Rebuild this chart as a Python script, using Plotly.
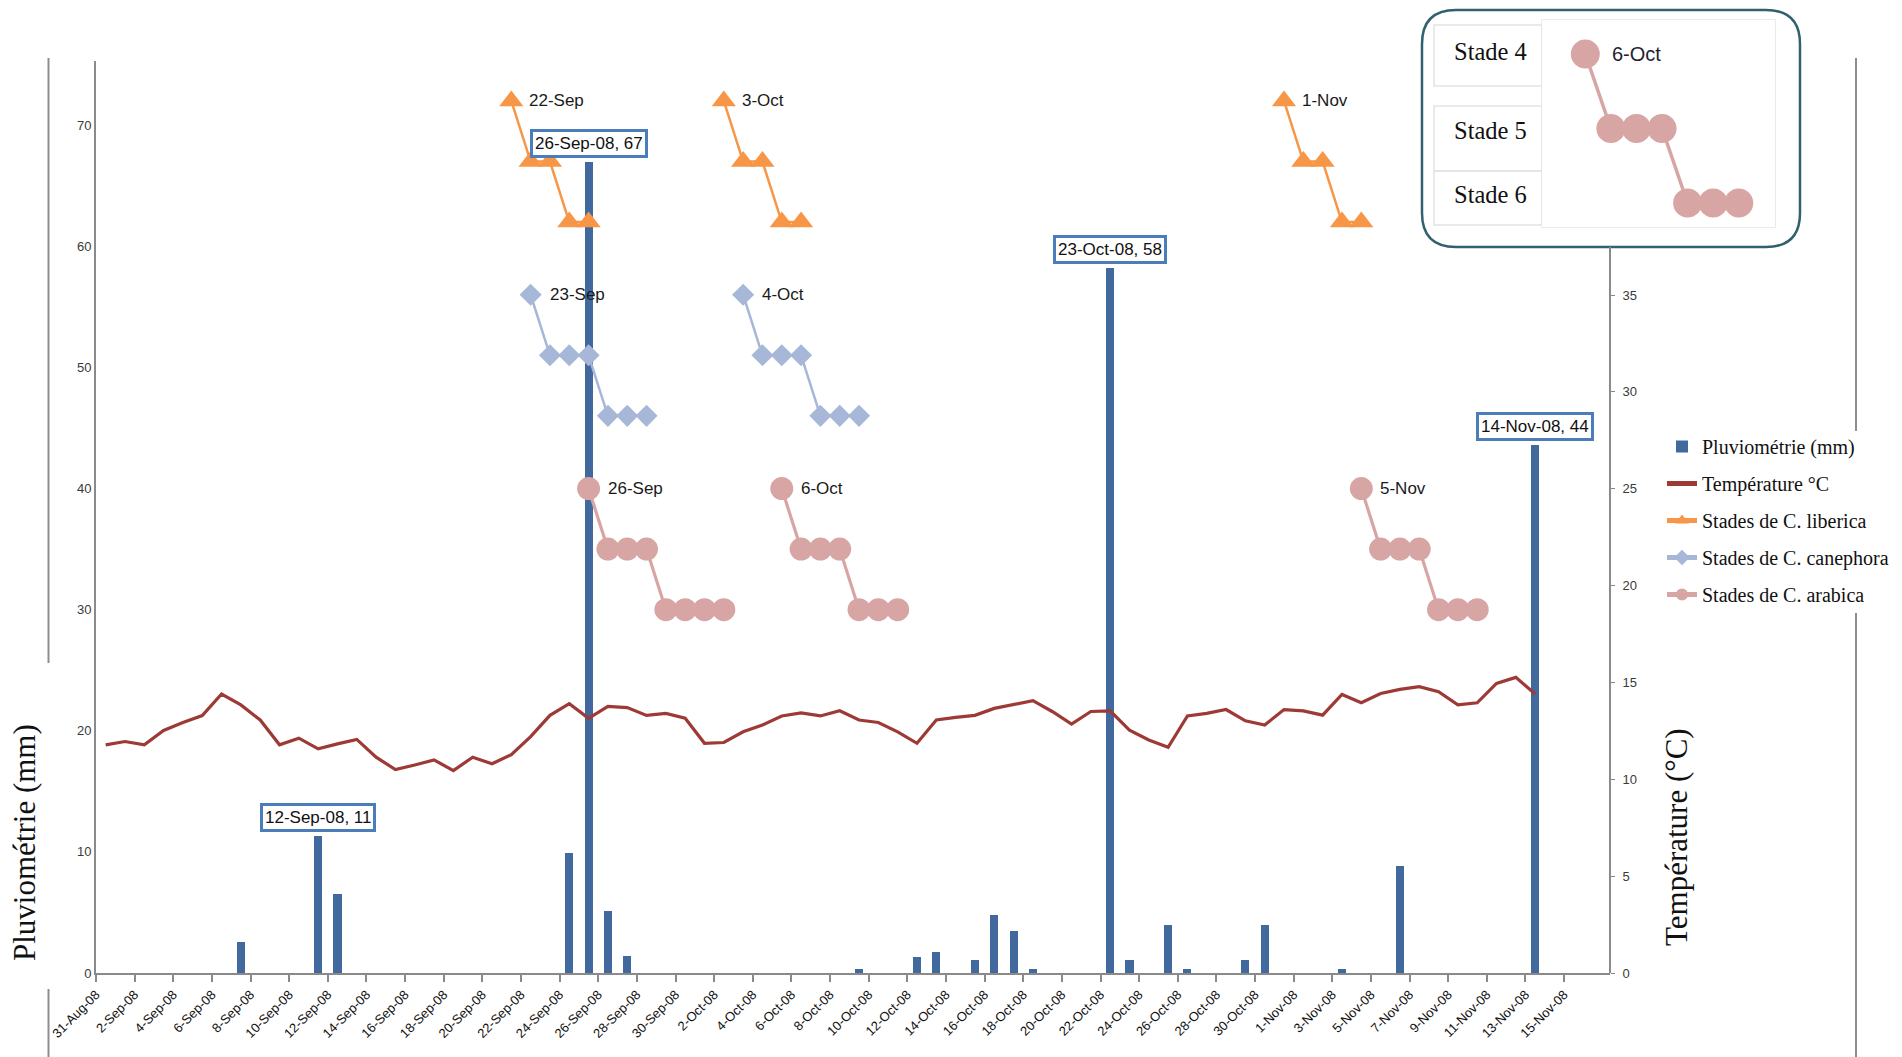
import pandas as pd
import plotly.graph_objects as go

# ---------------- DATA ----------------
rain_dates = ["2008-09-08", "2008-09-12", "2008-09-13", "2008-09-25", "2008-09-26",
              "2008-09-27", "2008-09-28", "2008-10-10", "2008-10-13", "2008-10-14",
              "2008-10-16", "2008-10-17", "2008-10-18", "2008-10-19", "2008-10-23",
              "2008-10-24", "2008-10-26", "2008-10-27", "2008-10-30", "2008-10-31",
              "2008-11-04", "2008-11-07", "2008-11-14"]
rain_mm = [2.6, 11.3, 6.5, 9.9, 67.0, 5.1, 1.4, 0.3, 1.3, 1.7, 1.1, 4.8, 3.5, 0.3,
           58.2, 1.1, 4.0, 0.3, 1.1, 4.0, 0.3, 8.8, 43.6]
rain_labelled = ["2008-09-12", "2008-09-26", "2008-10-23", "2008-11-14"]

temp_dates = pd.date_range("2008-09-01", "2008-11-14", freq="D")
temp_c = [11.78, 11.95, 11.78, 12.52, 12.93, 13.29, 14.40, 13.84, 13.06, 11.78,
          12.12, 11.57, 11.83, 12.06, 11.14, 10.50, 10.74, 11.00, 10.45, 11.14,
          10.80, 11.27, 12.20, 13.30, 13.90, 13.15, 13.76, 13.70, 13.30, 13.40,
          13.15, 11.86, 11.90, 12.45, 12.80, 13.27, 13.43, 13.27, 13.54, 13.06,
          12.93, 12.45, 11.86, 13.06, 13.20, 13.30, 13.66, 13.87, 14.06, 13.50,
          12.85, 13.50, 13.53, 12.54, 12.03, 11.65, 13.27, 13.40, 13.60, 13.02,
          12.80, 13.60, 13.53, 13.31, 14.38, 13.95, 14.43, 14.64, 14.78, 14.52,
          13.84, 13.95, 14.95, 15.26, 14.40]

liberica_dates = ["2008-09-22", "2008-09-23", "2008-09-24", "2008-09-25", "2008-09-26", None,
                  "2008-10-03", "2008-10-04", "2008-10-05", "2008-10-06", "2008-10-07", None,
                  "2008-11-01", "2008-11-02", "2008-11-03", "2008-11-04", "2008-11-05"]
liberica_y = [72, 67, 67, 62, 62, None,
              72, 67, 67, 62, 62, None,
              72, 67, 67, 62, 62]

canephora_dates = ["2008-09-23", "2008-09-24", "2008-09-25", "2008-09-26", "2008-09-27",
                   "2008-09-28", "2008-09-29", None,
                   "2008-10-04", "2008-10-05", "2008-10-06", "2008-10-07", "2008-10-08",
                   "2008-10-09", "2008-10-10"]
canephora_y = [56, 51, 51, 51, 46, 46, 46, None,
               56, 51, 51, 51, 46, 46, 46]

arabica_dates = ["2008-09-26", "2008-09-27", "2008-09-28", "2008-09-29", "2008-09-30",
                 "2008-10-01", "2008-10-02", "2008-10-03", None,
                 "2008-10-06", "2008-10-07", "2008-10-08", "2008-10-09", "2008-10-10",
                 "2008-10-11", "2008-10-12", None,
                 "2008-11-05", "2008-11-06", "2008-11-07", "2008-11-08", "2008-11-09",
                 "2008-11-10", "2008-11-11"]
arabica_y = [40, 35, 35, 35, 30, 30, 30, 30, None,
             40, 35, 35, 35, 30, 30, 30, None,
             40, 35, 35, 35, 30, 30, 30]

inset_dates = ["2008-10-06", "2008-10-07", "2008-10-08", "2008-10-09",
               "2008-10-10", "2008-10-11", "2008-10-12"]
inset_y = [40, 35, 35, 35, 30, 30, 30]
inset_stage_labels = ["Stade 4", "Stade 5", "Stade 6"]

tick_labels = ["31-Aug-08", "2-Sep-08", "4-Sep-08", "6-Sep-08", "8-Sep-08", "10-Sep-08",
               "12-Sep-08", "14-Sep-08", "16-Sep-08", "18-Sep-08", "20-Sep-08", "22-Sep-08",
               "24-Sep-08", "26-Sep-08", "28-Sep-08", "30-Sep-08", "2-Oct-08", "4-Oct-08",
               "6-Oct-08", "8-Oct-08", "10-Oct-08", "12-Oct-08", "14-Oct-08", "16-Oct-08",
               "18-Oct-08", "20-Oct-08", "22-Oct-08", "24-Oct-08", "26-Oct-08", "28-Oct-08",
               "30-Oct-08", "1-Nov-08", "3-Nov-08", "5-Nov-08", "7-Nov-08", "9-Nov-08",
               "11-Nov-08", "13-Nov-08", "15-Nov-08"]

# ---------------- LAYOUT HELPERS (pixel -> paper) ----------------
W, H = 1902, 1057
ML, MR, MT, MB = 96, 10, 5, 84
PX0, PX1 = ML, W - MR
PY0, PY1 = MT, H - MB
PLOT_R, PLOT_T = 1610, 61


def px(x):
    return (x - PX0) / (PX1 - PX0)


def py(y):
    return (PY1 - y) / (PY1 - PY0)


SANS = "Liberation Sans, Arial, sans-serif"
SERIF = "Liberation Serif, Times New Roman, serif"

fig = go.Figure()

# rain bars
fig.add_trace(go.Bar(
    x=rain_dates, y=rain_mm, name="Pluviométrie (mm)",
    marker=dict(color="#41699E", line=dict(width=0)),
    width=0.42 * 86400000, legendgroup="g1", yaxis="y", xaxis="x",
))

# temperature line
fig.add_trace(go.Scatter(
    x=temp_dates, y=temp_c, name="Température °C", mode="lines",
    line=dict(color="#9D3A36", width=3.2), legendgroup="g2", yaxis="y2", xaxis="x",
))

stage_series = [
    ("Stades de C. liberica", liberica_dates, liberica_y, "#F79646", "triangle-up", 21, 2.5, 16),
    ("Stades de C. canephora", canephora_dates, canephora_y, "#A7B7D7", "diamond", 17, 2.5, 17),
    ("Stades de C. arabica", arabica_dates, arabica_y, "#D8A5A5", "circle", 23, 3.2, 17),
]

annotations = []
for i, (name, xs, ys, col, sym, size, lw, off) in enumerate(stage_series):
    fig.add_trace(go.Scatter(
        x=xs, y=ys, name=name, mode="lines+markers",
        line=dict(color=col, width=lw),
        marker=dict(symbol=sym, size=size, color=col, line=dict(width=0)),
        legendgroup="g%d" % (i + 3), yaxis="y", xaxis="x", connectgaps=False,
    ))
    prev = None
    for xv, yv in zip(xs, ys):
        if xv is not None and prev is None:
            d = pd.Timestamp(xv)
            annotations.append(dict(
                x=xv, y=yv, xref="x", yref="y", text="%d-%s" % (d.day, d.strftime("%b")),
                showarrow=False, xanchor="left", yanchor="middle", xshift=off,
                font=dict(family=SANS, size=17, color="#1a1a1a"),
            ))
        prev = xv

# bar data labels
for xv, yv in zip(rain_dates, rain_mm):
    if xv in rain_labelled:
        d = pd.Timestamp(xv)
        annotations.append(dict(
            x=xv, y=yv, xref="x", yref="y",
            text="%d-%s-08, %.0f" % (d.day, d.strftime("%b"), yv),
            showarrow=False, xanchor="center", yanchor="bottom", yshift=4,
            font=dict(family=SANS, size=17, color="#111111"),
            bgcolor="white", bordercolor="#4A7DBA", borderwidth=3, borderpad=2,
        ))

# inset trace
fig.add_trace(go.Scatter(
    x=inset_dates, y=inset_y, mode="lines+markers", showlegend=False,
    line=dict(color="#D8A5A5", width=3.5),
    marker=dict(symbol="circle", size=29, color="#D8A5A5"),
    xaxis="x3", yaxis="y3",
))
d0 = pd.Timestamp(inset_dates[0])
annotations.append(dict(
    x=inset_dates[0], y=inset_y[0], xref="x3", yref="y3",
    text="%d-%s" % (d0.day, d0.strftime("%b")), showarrow=False,
    xanchor="left", yanchor="middle", xshift=25,
    font=dict(family=SANS, size=20, color="#1f2430"),
))

# inset stage labels
for lab, yy in zip(inset_stage_labels, [51, 131, 194]):
    annotations.append(dict(
        x=px(1490), y=py(yy), xref="paper", yref="paper", text=lab, showarrow=False,
        xanchor="center", yanchor="middle",
        font=dict(family=SERIF, size=24.5, color="#111111"),
    ))

# axis titles
annotations.append(dict(
    x=px(24), y=py(843), xref="paper", yref="paper", text="Pluviométrie (mm)",
    textangle=-90, showarrow=False, xanchor="center", yanchor="middle",
    font=dict(family=SERIF, size=31, color="#111111"),
))
annotations.append(dict(
    x=px(1676), y=py(837), xref="paper", yref="paper", text="Température (°C)",
    textangle=-90, showarrow=False, xanchor="center", yanchor="middle",
    font=dict(family=SERIF, size=31, color="#111111"),
))

# ---------------- SHAPES ----------------
shapes = []


def rounded_rect(x0, y0, x1, y1, r):
    rx = r / (PX1 - PX0)
    ry = r / (PY1 - PY0)
    a, b, c, d = px(x0), px(x1), py(y1), py(y0)  # left, right, bottom, top
    return ("M %f,%f L %f,%f Q %f,%f %f,%f L %f,%f Q %f,%f %f,%f "
            "L %f,%f Q %f,%f %f,%f L %f,%f Q %f,%f %f,%f Z" % (
                a + rx, d, b - rx, d, b, d, b, d - ry,
                b, c + ry, b, c, b - rx, c,
                a + rx, c, a, c, a, c + ry,
                a, d - ry, a, d, a + rx, d))


shapes.append(dict(type="path", path=rounded_rect(1422, 10, 1800, 247, 34),
                   xref="paper", yref="paper", fillcolor="white",
                   line=dict(color="#31606E", width=2.5), layer="below"))
for (x0, y0, x1, y1) in [(1434, 25, 1542, 86), (1434, 106, 1542, 171),
                         (1434, 171, 1542, 225), (1542, 20, 1775, 227)]:
    shapes.append(dict(type="rect", x0=px(x0), x1=px(x1), y0=py(y1), y1=py(y0),
                       xref="paper", yref="paper", fillcolor="rgba(0,0,0,0)",
                       line=dict(color="#E4E4E4", width=1.5), layer="below"))
# right axis line (below the inset box)
shapes.append(dict(type="line", x0=px(PLOT_R), x1=px(PLOT_R), y0=py(973), y1=py(247),
                   xref="paper", yref="paper", line=dict(color="#8A8A8A", width=2),
                   layer="below"))
# decorative outer frame lines
for (xx, ya, yb) in [(48.5, 58, 663), (48.5, 989, 1057), (1856, 58, 431), (1856, 613, 1057)]:
    shapes.append(dict(type="line", x0=px(xx), x1=px(xx), y0=py(ya), y1=py(yb),
                       xref="paper", yref="paper", line=dict(color="#8E8E8E", width=2),
                       layer="below"))

# ---------------- AXES ----------------
tickvals = [(pd.to_datetime(t, format="%d-%b-%y") + pd.Timedelta(hours=12)).strftime("%Y-%m-%d %H:%M")
            for t in tick_labels]

x3_left = d0 - pd.Timedelta(days=(1585 - 1542) / 25.4)
x3_right = pd.Timestamp(inset_dates[-1]) + pd.Timedelta(days=(1775 - 1739) / 25.4)

fig.update_layout(
    width=W, height=H,
    margin=dict(l=ML, r=MR, t=MT, b=MB, pad=0),
    paper_bgcolor="white", plot_bgcolor="white",
    showlegend=True,
    bargap=0,
    xaxis=dict(
        type="date", domain=[0, px(PLOT_R)], anchor="y",
        range=["2008-08-31 12:00", "2008-11-17 21:00"],
        tickmode="array", tickvals=tickvals, ticktext=tick_labels, tickangle=-45,
        tickfont=dict(family=SANS, size=13, color="#111111"),
        showline=True, linecolor="#8A8A8A", linewidth=2,
        ticks="outside", ticklen=7, tickcolor="#8A8A8A", tickwidth=1.5,
        showgrid=False, zeroline=False,
    ),
    yaxis=dict(
        domain=[0, py(PLOT_T)], anchor="x", range=[0, 75.3],
        tickmode="array", tickvals=[0, 10, 20, 30, 40, 50, 60, 70],
        tickfont=dict(family=SANS, size=13, color="#3a3a3a"),
        showline=True, linecolor="#8A8A8A", linewidth=2,
        ticks="", ticklabelstandoff=0,
        showgrid=False, zeroline=False,
    ),
    yaxis2=dict(
        overlaying="y", side="right", anchor="x", range=[0, 47.08],
        tickmode="array", tickvals=[0, 5, 10, 15, 20, 25, 30, 35],
        tickfont=dict(family=SANS, size=13, color="#3a3a3a"),
        showline=False, ticks="outside", ticklen=4, tickcolor="#8A8A8A",
        ticklabelstandoff=5, showgrid=False, zeroline=False,
    ),
    xaxis3=dict(
        type="date", domain=[px(1542), px(1775)], anchor="y3",
        range=[x3_left.strftime("%Y-%m-%d %H:%M"), x3_right.strftime("%Y-%m-%d %H:%M")],
        visible=False, showgrid=False, zeroline=False,
    ),
    yaxis3=dict(
        domain=[py(227), py(20)], anchor="x3",
        range=[30 - (227 - 203) / 14.9, 40 + (54 - 20) / 14.9],
        visible=False, showgrid=False, zeroline=False,
    ),
    legend=dict(
        x=px(1662), y=py(427), xanchor="left", yanchor="top",
        font=dict(family=SERIF, size=20, color="#111111"),
        bgcolor="rgba(0,0,0,0)", borderwidth=0,
        tracegroupgap=8, itemsizing="constant", traceorder="grouped",
    ),
    annotations=annotations,
    shapes=shapes,
)

fig.write_html("out.html", config={"displayModeBar": False},
               post_script="document.body.style.margin='0';document.body.style.overflow='hidden';")
